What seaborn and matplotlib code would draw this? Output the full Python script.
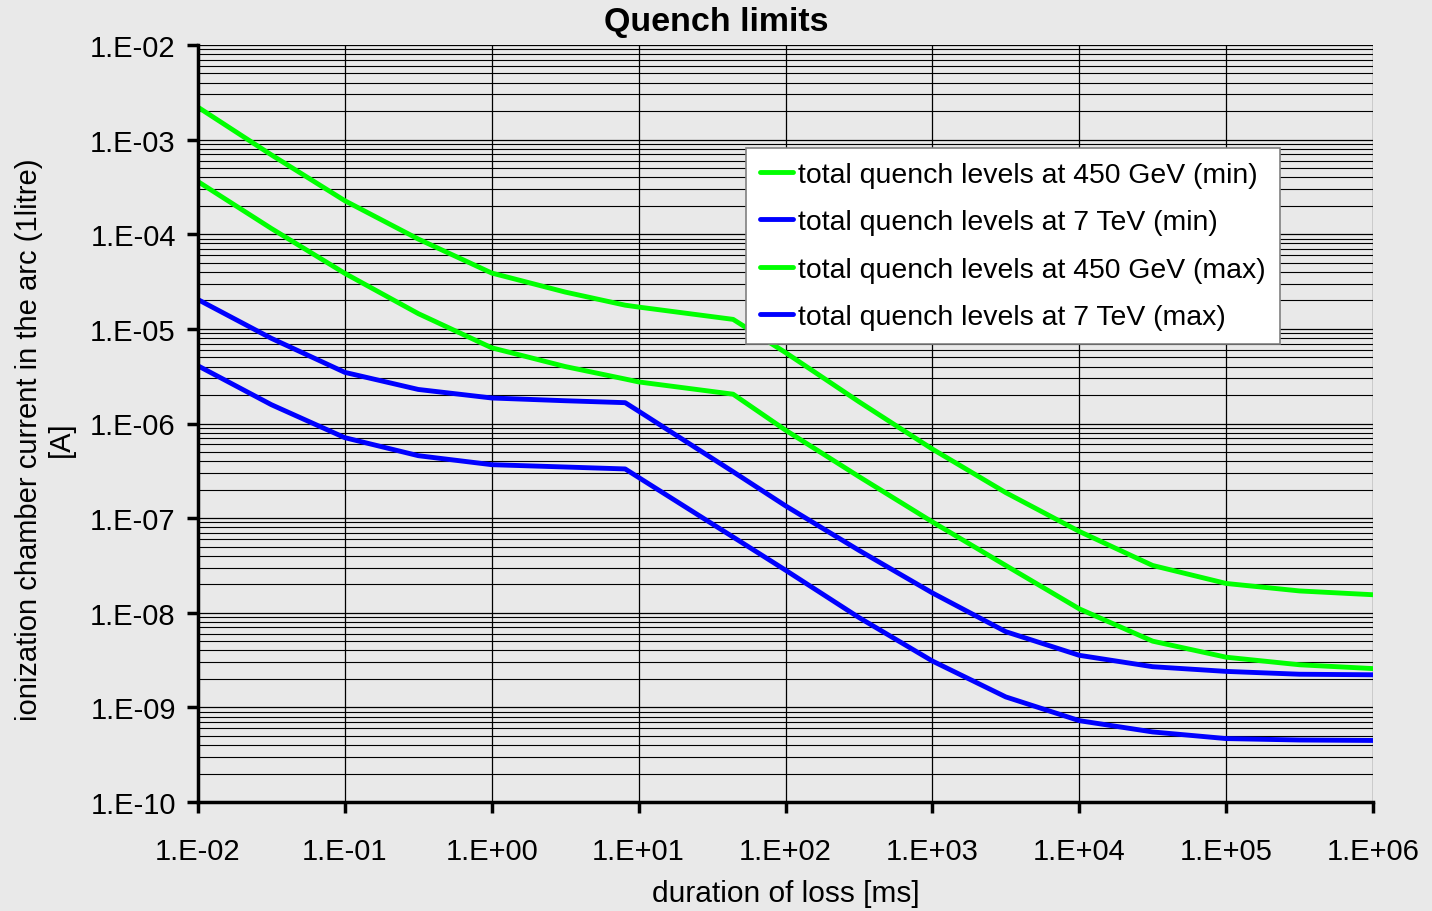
import numpy as np
import pandas as pd
import matplotlib
matplotlib.use("Agg")
import matplotlib.pyplot as plt
import matplotlib.ticker as mticker
import seaborn as sns

duration_ms = [0.01, 0.0316, 0.1, 0.316, 1.0, 3.16, 8.1, 10.0, 44.0, 100.0,
               316.0, 1000.0, 3160.0, 1.0e4, 3.16e4, 1.0e5, 3.16e5, 1.0e6]

green_min = [2.20e-3, 6.90e-4, 2.26e-4, 8.90e-5, 3.89e-5, 2.45e-5, 1.78e-5, 1.70e-5,
             1.26e-5, 5.62e-6, 1.70e-6, 5.37e-7, 1.86e-7, 7.24e-8, 3.16e-8, 2.04e-8,
             1.70e-8, 1.55e-8]
blue_min = [2.04e-5, 7.94e-6, 3.47e-6, 2.29e-6, 1.86e-6, 1.74e-6, 1.66e-6, 1.35e-6,
            3.09e-7, 1.35e-7, 4.57e-8, 1.62e-8, 6.31e-9, 3.55e-9, 2.69e-9, 2.40e-9,
            2.24e-9, 2.21e-9]
green_max = [3.60e-4, 1.15e-4, 3.86e-5, 1.45e-5, 6.31e-6, 4.00e-6, 2.95e-6, 2.75e-6,
             2.04e-6, 8.51e-7, 2.75e-7, 9.12e-8, 3.16e-8, 1.10e-8, 5.01e-9, 3.39e-9,
             2.82e-9, 2.57e-9]
blue_max = [4.07e-6, 1.58e-6, 7.08e-7, 4.57e-7, 3.67e-7, 3.47e-7, 3.31e-7, 2.69e-7,
            6.31e-8, 2.82e-8, 8.91e-9, 3.09e-9, 1.29e-9, 7.24e-10, 5.50e-10, 4.68e-10,
            4.52e-10, 4.47e-10]

series_names = ["total quench levels at 450 GeV (min)",
                "total quench levels at 7 TeV (min)",
                "total quench levels at 450 GeV (max)",
                "total quench levels at 7 TeV (max)"]
series_values = [green_min, blue_min, green_max, blue_max]
series_colors = ["#00ff00", "#0000ff", "#00ff00", "#0000ff"]

title = "Quench limits"
xlabel = "duration of loss [ms]"
ylabel = "ionization chamber current in the arc (1litre)\n[A]"

rows = []
for name, vals in zip(series_names, series_values):
    for d, v in zip(duration_ms, vals):
        rows.append({"duration": d, "current": v, "series": name})
df = pd.DataFrame(rows)

sns.set_style("white")
plt.rcParams["font.family"] = ["Liberation Sans", "DejaVu Sans"]
plt.rcParams["text.color"] = "black"
plt.rcParams["axes.labelcolor"] = "black"
plt.rcParams["xtick.color"] = "black"
plt.rcParams["ytick.color"] = "black"

bg = "#e9e9e9"
fig = plt.figure(figsize=(14.32, 9.12), dpi=100, facecolor=bg)
ax = fig.add_axes([198/1432, 1 - 803/912, 1175/1432, 757/912])
ax.set_facecolor(bg)

sns.lineplot(data=df, x="duration", y="current", hue="series", hue_order=series_names,
             palette=dict(zip(series_names, series_colors)), linewidth=3.5, ax=ax,
             estimator=None, sort=True)

ax.set_xscale("log")
ax.set_yscale("log")
ax.set_xlim(1e-2, 1e6)
ax.set_ylim(1e-10, 1e-2)

fmt = mticker.FuncFormatter(lambda v, p: f"1.E{int(round(np.log10(v))):+03d}")
ax.xaxis.set_major_locator(mticker.LogLocator(base=10, numticks=20))
ax.yaxis.set_major_locator(mticker.LogLocator(base=10, numticks=20))
ax.xaxis.set_minor_locator(mticker.NullLocator())
ax.yaxis.set_minor_locator(mticker.LogLocator(base=10, subs=np.arange(2, 10), numticks=100))
ax.xaxis.set_major_formatter(fmt)
ax.yaxis.set_major_formatter(fmt)
ax.yaxis.set_minor_formatter(mticker.NullFormatter())

ax.grid(True, which="major", axis="both", color="black", linewidth=0.9)
ax.grid(True, which="minor", axis="y", color="black", linewidth=0.8)
ax.set_axisbelow(True)

for s in ["top", "right"]:
    ax.spines[s].set_visible(False)
for s in ["left", "bottom"]:
    ax.spines[s].set_color("black")
    ax.spines[s].set_linewidth(2.5)

ax.tick_params(axis="both", which="major", direction="out", length=8, width=2.5,
               color="black", labelcolor="black", labelsize=21, left=True, bottom=True)
ax.tick_params(axis="x", which="major", pad=17)
ax.tick_params(axis="y", which="major", pad=8)
ax.tick_params(axis="y", which="minor", left=False)

fig.text(0.5, 1 - 22/912, title, fontsize=24.5, fontweight="bold",
         ha="center", va="center", color="black")
ax.set_xlabel(xlabel, fontsize=21.5, labelpad=10, color="black")
ax.set_ylabel(ylabel, fontsize=21, linespacing=1.15, color="black")
ax.yaxis.set_label_coords(-0.105, 0.48)

leg = ax.legend(loc="upper left", bbox_to_anchor=(548/1175, (803-149)/757),
                borderaxespad=0, fontsize=20.4, frameon=True, fancybox=False,
                framealpha=1, facecolor="white", edgecolor="#808080",
                handlelength=1.15, handletextpad=0.2, labelspacing=0.75,
                borderpad=0.5, title=None)
leg.get_frame().set_linewidth(1.2)
for line in leg.get_lines():
    line.set_linewidth(3.5)
for t in leg.get_texts():
    t.set_color("black")

fig.savefig("out.png", dpi=100, facecolor=bg)
